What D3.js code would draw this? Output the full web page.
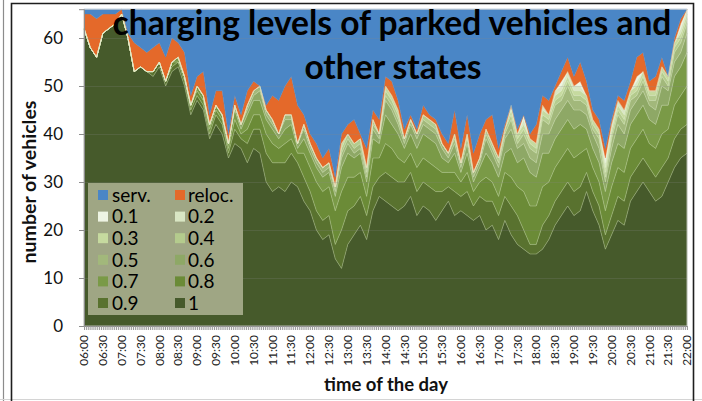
<!DOCTYPE html>
<html><head><meta charset="utf-8">
<script src="https://cdn.jsdelivr.net/npm/d3@7/dist/d3.min.js"></script>
<style>html,body{margin:0;padding:0;background:#fff;} svg{display:block;font-family:Lato,"Open Sans",sans-serif;}</style>
</head><body><svg id="c" width="702" height="401"></svg>
<script>
// ---- data (one value every 10 minutes, 06:00 .. 22:00) ----
const stepMinutes = 10;
const tickLabels = ["06:00","06:30","07:00","07:30","08:00","08:30","09:00","09:30","10:00","10:30","11:00","11:30","12:00","12:30","13:00","13:30","14:00","14:30","15:00","15:30","16:00","16:30","17:00","17:30","18:00","18:30","19:00","19:30","20:00","20:30","21:00","21:30","22:00"];
const yTicks = [0,10,20,30,40,50,60];
const s1 = [62,58,56,61,62,63,65,60,53,54,53,
52,54,50,53,54,50,44,47,45,39,
42,40,35,38,37,34,37,36,30,28,
29,28,30,29,26,24,20,18,19,14,
12,17,19,21,18,24,27,26,25,24,
25,27,23,25,24,22,24,26,23,24,
23,22,23,20,21,18,22,19,17,16,
15,15,16,18,21,23,25,23,24,28,
24,21,16,19,22,21,26,28,30,28,
26,27,30,33,35,36];
const s09 = [0,0,0,0,0,0,0,0,0,0,0,
1,1,1,1,1,1,1,1,1,1,
2,2,1,3,2,4,4,5,6,6,
5,6,6,5,5,4,4,4,4,3,
8,7,6,6,5,5,4,6,6,6,
5,5,5,5,5,6,4,3,5,3,
5,3,4,6,5,5,5,6,6,4,
2,2,5,5,5,5,5,5,5,4,
4,4,3,4,5,5,5,5,5,5,
5,6,5,6,6,6];
const s08 = [0,0,0,0,0,0,0,0,0,0,0,
0,0,0,1,0,1,1,1,1,1,
1,1,1,2,1,3,3,3,4,4,
3,4,3,2,5,5,6,6,6,7,
8,7,6,5,4,6,4,6,6,5,
4,4,5,5,5,5,4,3,4,3,
4,3,3,5,4,4,5,6,6,8,
8,8,8,7,7,7,7,7,7,5,
5,5,5,6,6,6,6,6,6,5,
6,7,6,7,7,8];
const s07 = [0,0,0,0,0,0,0,0,0,0,0,
0,0,0,0,1,0,0,1,1,1,
1,1,1,2,1,3,3,3,3,3,
2,3,3,1,3,3,3,3,3,3,
5,5,4,4,3,4,3,6,5,5,
3,4,4,5,5,5,3,2,4,2,
4,2,3,5,4,4,4,6,5,7,
7,6,7,6,6,6,6,6,6,4,
4,4,4,5,5,5,5,5,5,5,
5,6,5,6,6,7];
const s06 = [0,0,0,0,0,0,0,0,0,0,0,
0,0,0,0,0,0,0,0,0,0,
0,0,0,1,1,1,1,2,1,1,
1,2,1,1,2,1,1,1,1,1,
2,2,1,1,1,2,1,3,3,2,
1,2,2,2,2,2,2,1,2,1,
2,1,1,3,2,2,3,4,3,3,
3,3,4,4,4,4,4,4,3,3,
3,3,2,3,4,3,3,3,3,3,
3,4,3,3,3,4];
const s05 = [0,0,0,0,0,0,0,0,0,0,0,
0,0,0,0,0,0,0,0,0,0,
0,0,0,0,0,1,1,1,1,1,
0,1,1,0,1,1,1,1,1,1,
1,1,1,1,1,1,1,1,1,1,
1,1,1,1,1,1,1,1,1,1,
1,1,1,1,1,1,1,2,1,2,
2,2,3,2,3,2,3,2,2,2,
1,2,1,2,2,2,2,1,2,1,
2,2,1,2,2,2];
const s04 = [0,0,0,0,0,0,0,0,0,0,0,
0,0,0,0,0,0,0,0,0,0,
0,0,0,0,0,0,0,0,0,0,
0,0,0,0,0,0,0,0,0,0,
1,1,1,1,1,1,0,1,1,1,
0,0,0,1,1,1,0,0,1,0,
1,0,0,1,1,1,1,1,1,1,
1,1,1,1,1,1,1,1,1,1,
1,1,1,1,1,1,1,1,1,1,
1,1,1,1,1,1];
const s03 = [0,0,0,0,0,0,0,0,0,0,0,
0,0,0,0,0,0,0,0,0,0,
0,0,0,0,0,0,0,0,0,0,
0,0,0,0,0,0,0,0,0,0,
1,0,0,0,0,0,0,1,1,1,
0,0,0,0,0,0,0,0,0,0,
0,0,0,0,0,0,0,1,1,1,
1,1,1,1,1,1,1,1,1,1,
1,1,1,1,1,1,1,1,1,1,
1,1,1,1,1,1];
const s02 = [0,0,0,0,0,0,0,0,0,0,0,
0,0,0,0,0,0,0,0,0,0,
0,0,0,0,0,0,0,0,0,0,
0,0,0,0,0,0,0,0,0,0,
0,0,0,0,0,0,0,0,0,0,
0,0,0,0,0,0,0,0,0,0,
0,0,0,0,0,0,0,1,0,1,
0,0,1,0,1,1,1,1,1,0,
0,0,1,1,1,1,0,1,0,0,
0,0,0,0,1,1];
const s01 = [0,0,0,0,0,0,0,0,0,0,0,
0,0,0,0,0,0,0,0,0,0,
0,0,0,0,0,0,0,0,0,0,
0,0,0,0,0,0,0,0,0,0,
0,0,0,0,0,0,0,0,0,0,
0,0,0,0,0,0,0,0,0,0,
0,0,0,0,0,0,0,0,0,1,
0,0,0,0,0,1,0,0,1,0,
0,0,1,0,0,0,0,1,0,0,
0,0,0,0,1,0];
const reloc = [3,7,8,4,3,2,1,1,6,4,4,
5,4,5,5,3,5,2,2,5,2,
3,5,2,2,2,3,2,0,1,5,
7,6,8,8,2,2,3,2,3,2,
2,2,5,1,4,2,3,2,3,2,
2,1,1,2,1,1,2,2,5,3,
4,4,5,2,6,2,1,0,1,0,
1,4,2,3,1,2,3,2,4,3,
2,2,2,1,1,2,2,4,4,2,
3,2,0,1,1,0];
const serv = [1,1,2,1,1,1,0,5,7,8,9,
8,7,10,6,7,9,18,14,13,22,
17,17,26,18,22,17,15,16,20,18,
19,16,14,20,22,26,28,31,29,35,
26,24,23,26,29,21,23,14,15,19,
25,22,25,20,22,23,26,28,21,29,
22,30,26,23,22,29,24,20,25,22,
26,24,18,19,16,13,10,14,11,15,
21,23,29,23,18,19,15,10,9,15,
14,10,14,6,2,0];

const seriesNames = ["1","0.9","0.8","0.7","0.6","0.5","0.4","0.3","0.2","0.1","reloc.","serv."];
const seriesData  = [s1,s09,s08,s07,s06,s05,s04,s03,s02,s01,reloc,serv];
const seriesColors = ["#465a2b","#59722f","#6b8b37","#7a9a47","#8ea866","#a2b87b","#b4cb8d","#c6da9f","#d9e6c4","#eef4e3","#e4692a","#4a86c6"];
const legendOrder = ["serv.","reloc.","0.1","0.2","0.3","0.4","0.5","0.6","0.7","0.8","0.9","1"];

// ---- build table ----
const table = s1.map((_, i) => {
  const row = {m: i * stepMinutes};
  seriesNames.forEach((n, k) => row[n] = seriesData[k][i]);
  return row;
});

const svg = d3.select("#c");
const W = 702, H = 401;
const plot = {l: 84, r: 687, t: 9.2, b: 326};

// frame lines
svg.append("line").attr("x1",3.5).attr("x2",3.5).attr("y1",0).attr("y2",H).attr("stroke","#8c8c8c").attr("stroke-width",1.2);
svg.append("line").attr("x1",0).attr("x2",W).attr("y1",399.5).attr("y2",399.5).attr("stroke","#d4d4d4").attr("stroke-width",1);
svg.append("path").attr("d",`M11.5,${H} V3.5 H693.5 V${H}`).attr("fill","none").attr("stroke","#1e1e1e").attr("stroke-width",1.6);

const x = d3.scaleLinear().domain([0, 960]).range([plot.l, plot.r]);
const y = d3.scaleLinear().domain([0, 66]).range([plot.b, plot.t]);

const stack = d3.stack().keys(seriesNames);
const layers = stack(table);
const area = d3.area().x(d => x(d.data.m)).y0(d => y(d[0])).y1(d => y(d[1])).curve(d3.curveLinear);
const topLine = d3.line().x(d => x(d.data.m)).y(d => y(d[1]));

const g = svg.append("g");
g.selectAll("path.a").data(layers).join("path").attr("class","a")
  .attr("d", area).attr("fill", (d,i) => seriesColors[i]).attr("stroke", (d,i)=>seriesColors[i]).attr("stroke-width",0.4);
g.selectAll("path.e").data(layers.slice(0,9)).join("path").attr("class","e")
  .attr("d", topLine).attr("fill","none").attr("stroke","rgba(225,238,205,0.45)").attr("stroke-width",0.7);

// faint gridlines
svg.append("g").selectAll("line").data(yTicks.filter(v=>v>0)).join("line")
  .attr("x1",plot.l).attr("x2",plot.r).attr("y1",d=>Math.round(y(d))+0.5).attr("y2",d=>Math.round(y(d))+0.5)
  .attr("stroke","#8a8a8a").attr("stroke-opacity",0.28).attr("stroke-width",0.8);

// plot border
svg.append("rect").attr("x",plot.l).attr("y",plot.t).attr("width",plot.r-plot.l).attr("height",plot.b-plot.t)
  .attr("fill","none").attr("stroke","#cfcfcf").attr("stroke-width",0.8);

// y axis
const yAxis = svg.append("g").attr("transform",`translate(${plot.l},0)`)
  .call(d3.axisLeft(y).tickValues(yTicks).tickSize(5).tickPadding(16).tickFormat(d3.format("d")));
yAxis.select(".domain").attr("stroke","#8c8c8c");
yAxis.selectAll(".tick line").attr("stroke","#8c8c8c");
yAxis.selectAll("text").attr("font-size",17).attr("fill","#111").attr("font-family","Lato");

// x axis minor ticks & labels
const xAxis = svg.append("g").attr("transform",`translate(0,${plot.b})`)
  .call(d3.axisBottom(x).tickValues(d3.range(0, 961, 3)).tickSize(4).tickFormat(""));
xAxis.select(".domain").attr("stroke","#8c8c8c");
xAxis.selectAll(".tick line").attr("stroke","#9a9a9a");
const labelMinutes = tickLabels.map((_, i) => i * 30);
svg.append("g").selectAll("text").data(tickLabels).join("text")
  .attr("transform",(d,i)=>`translate(${x(labelMinutes[i])},335) rotate(-90)`)
  .attr("text-anchor","end").attr("dy","0.35em").attr("font-size",12).attr("fill","#222").text(d=>d);

// axis titles
svg.append("text").attr("transform","translate(36,182) rotate(-90)").attr("text-anchor","middle")
  .attr("font-weight","bold").attr("font-size",19.5).attr("fill","#111").text("number of vehicles");
svg.append("text").attr("x",386).attr("y",391).attr("text-anchor","middle")
  .attr("font-weight","bold").attr("font-size",18.5).attr("fill","#111").text("time of the day");

// legend
const lg = svg.append("g");
lg.append("rect").attr("x",88).attr("y",183).attr("width",155).attr("height",132).attr("fill","#9fa684");
legendOrder.forEach((name, k) => {
  const r = Math.floor(k/2), c = k % 2;
  const cy = 195 + r*21.6;
  const idx = seriesNames.indexOf(name);
  lg.append("rect").attr("x",98 + c*77).attr("y",cy-5).attr("width",10).attr("height",10).attr("fill",seriesColors[idx]);
  lg.append("text").attr("x",112 + c*76).attr("y",cy).attr("dy","0.36em").attr("font-size",19).attr("fill","#000").text(name);
});

// title
const titleLines = ["charging levels of parked vehicles and","other states"];
const t1 = svg.append("text").attr("x",392).attr("y",35).attr("text-anchor","middle").attr("font-weight","bold")
  .attr("font-size",28).attr("fill","#000").text(titleLines[0]);
const w1 = t1.node().getComputedTextLength();
const fs = 28 * 559 / w1;
t1.attr("font-size", fs);
svg.append("text").attr("x",393).attr("y",79).attr("text-anchor","middle").attr("font-weight","bold")
  .attr("font-size",fs).attr("fill","#000").text(titleLines[1]);
</script></body></html>
